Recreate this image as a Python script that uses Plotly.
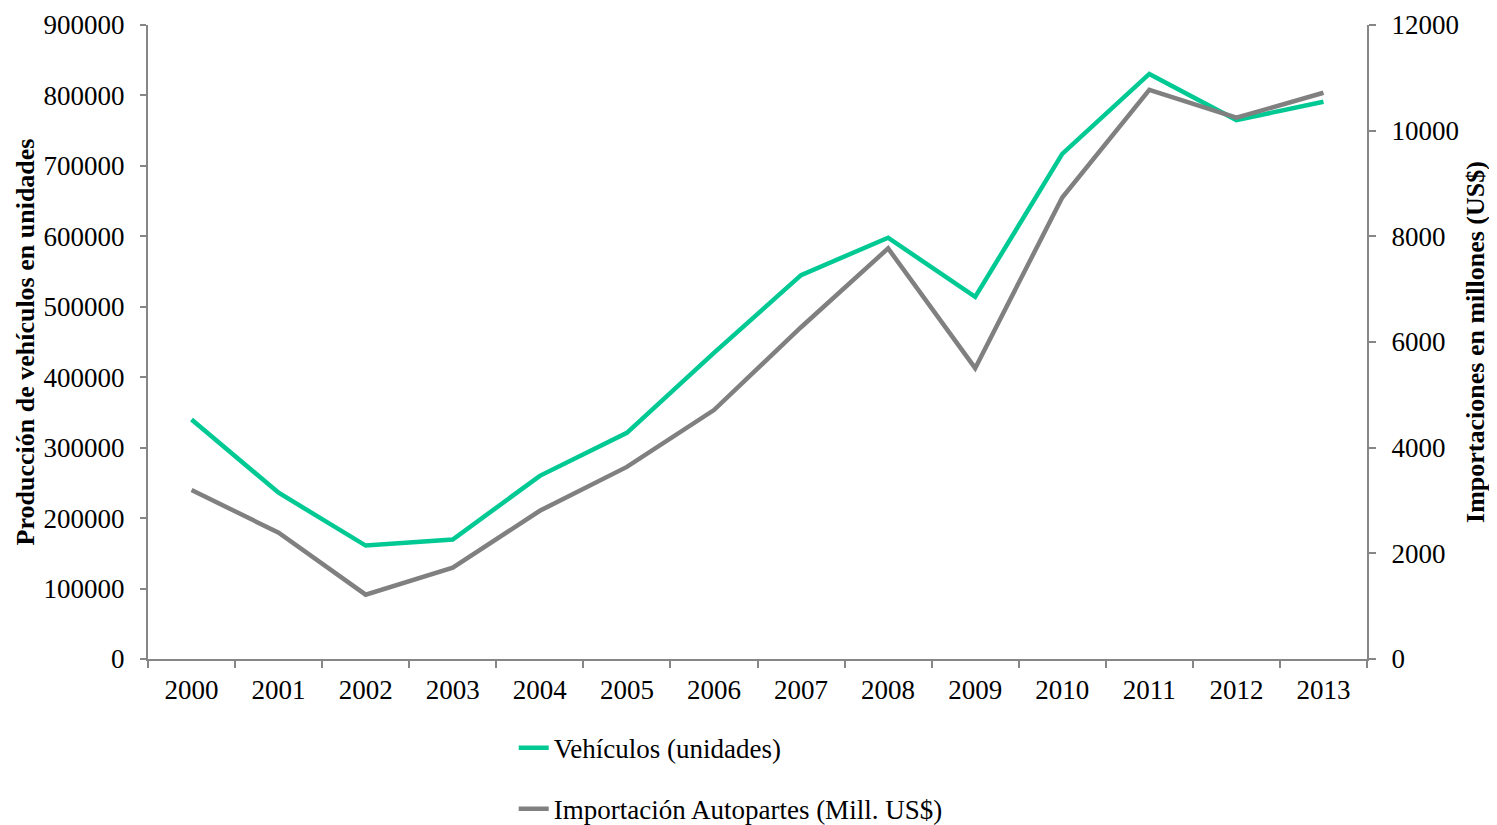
import plotly.graph_objects as go

years = [str(y) for y in range(2000, 2014)]
vehiculos = [340000, 236000, 161000, 169500, 260000, 321000, 434500, 545000,
             598000, 514000, 717000, 830500, 765000, 791000]
importacion = [3200, 2390, 1218, 1728, 2805, 3636, 4712, 6280,
               7772, 5505, 8735, 10774, 10245, 10718]

FONT = "Liberation Serif, Times New Roman, serif"
AXIS = "#868686"
GREEN = "#00C994"
GRAY = "#808080"
FS = 27

fig = go.Figure()
fig.add_trace(go.Scatter(x=years, y=vehiculos, mode="lines", name="Vehículos (unidades)",
                         line=dict(color=GREEN, width=4.5), legendgroup="a", yaxis="y"))
fig.add_trace(go.Scatter(x=years, y=importacion, mode="lines", name="Importación Autopartes (Mill. US$)",
                         line=dict(color=GRAY, width=4.5), legendgroup="b", yaxis="y2"))

fig.update_layout(
    width=1489, height=817,
    margin=dict(l=140, r=130, t=17, b=166, autoexpand=False),
    plot_bgcolor="white", paper_bgcolor="white",
    font=dict(family=FONT, size=FS, color="black"),
    showlegend=True,
    legend=dict(orientation="v", x=0.30, xanchor="left", yref="container", y=0.124,
                yanchor="top", tracegroupgap=23, font=dict(size=FS),
                bgcolor="rgba(0,0,0,0)"),
    xaxis=dict(type="category", range=[-0.5, 13.5], showline=True, linecolor=AXIS, linewidth=2,
               ticks="outside", tickson="boundaries", ticklen=7, tickcolor=AXIS, tickwidth=2,
               showgrid=False, zeroline=False, ticklabelstandoff=6, automargin=False,
               tickfont=dict(size=FS)),
    yaxis=dict(range=[0, 900000], dtick=100000, showline=True, linecolor=AXIS, linewidth=2,
               ticks="outside", ticklen=6, tickcolor=AXIS, tickwidth=2, showgrid=False,
               zeroline=False, ticklabelstandoff=10, tickformat="d", automargin=False,
               tickfont=dict(size=FS),
               title=dict(text="<b>Producción de vehículos en unidades</b>", standoff=1,
                          font=dict(size=26))),
    yaxis2=dict(range=[0, 12000], dtick=2000, overlaying="y", side="right", showline=True,
                linecolor=AXIS, linewidth=2, ticks="outside", ticklen=7, tickcolor=AXIS,
                tickwidth=2, showgrid=False, zeroline=False, ticklabelstandoff=10,
                tickformat="d", tickfont=dict(size=FS), automargin=False,
                title=dict(text="<b>Importaciones en millones (US$)</b>", standoff=8,
                           font=dict(size=26))),
)

fig.write_html("out.html")
